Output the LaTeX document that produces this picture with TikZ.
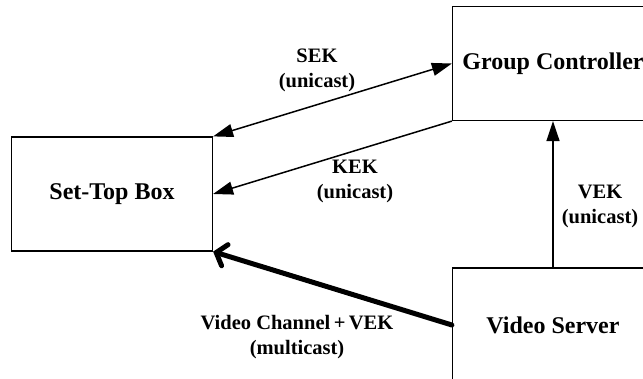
\documentclass[tikz,border=0pt]{standalone}
\usepackage{fontspec}
\setmainfont{Liberation Serif}
\usetikzlibrary{arrows.meta}

\begin{document}
\begin{tikzpicture}[x=1pt,y=-1pt,
    box/.style={draw,line width=1.2pt,minimum width=201pt,minimum height=114pt,inner sep=0pt,
      font=\fontsize{24}{28}\selectfont\bfseries},
    lbl/.style={align=center,font=\fontsize{20.5}{25}\selectfont\bfseries},
    keyline/.style={line width=1.5pt,-{Triangle[length=20pt,width=13pt]}}]
  \clip (0,0) rectangle (643,378);
  \node[box] (stb) at (112,194) {Set-Top Box};
  \node[box] (gc) at (553,63.5) {Group Controller};
  \node[box] (vs) at (553,325) {Video Server};
  % key distribution
  \draw[keyline,{Triangle[length=20pt,width=13pt]}-{Triangle[length=20pt,width=13pt]}]
    (stb.north east) -- (gc.west);
  \draw[keyline] (gc.south west) -- (stb.east);
  \draw[keyline] (vs.north) -- (gc.south);
  \draw[line width=5pt,line cap=round,-{Straight Barb[length=9pt,width=22pt,line cap=round]}]
    (vs.west) -- (stb.south east);
  \node[lbl] (sek) at (317,70) {SEK\\(unicast)};
  \node[lbl] (kek) at (355,181) {KEK\\(unicast)};
  \node[lbl] (vek) at (600,206) {VEK\\(unicast)};
  \node[lbl] (mc) at (297,337) {Video Channel\,+\,VEK\\(multicast)};
\end{tikzpicture}
\end{document}
